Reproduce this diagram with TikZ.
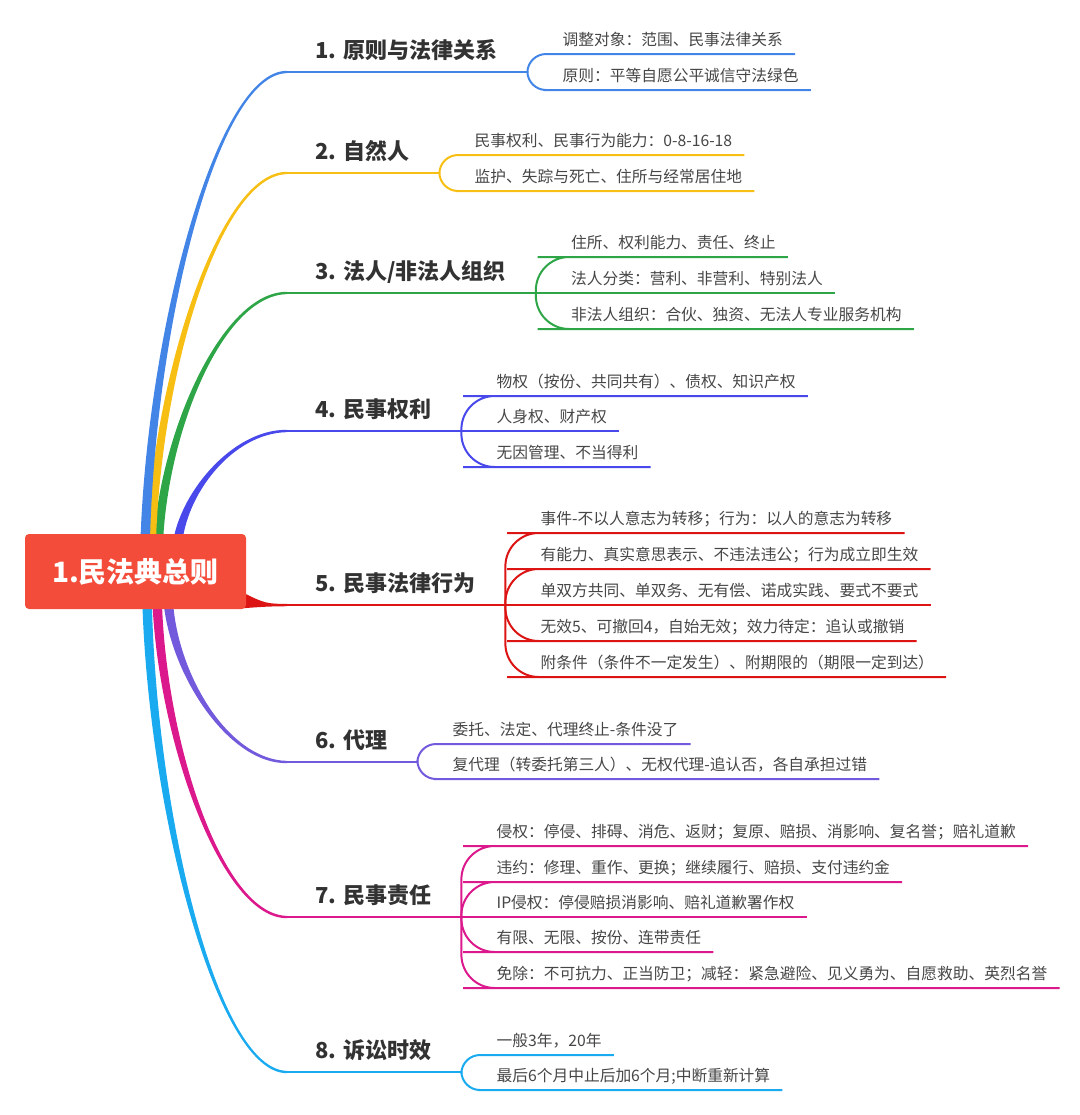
\documentclass[tikz,border=0pt]{standalone}
\usepackage{fontspec}
\setmainfont{Noto Sans CJK SC}
\usetikzlibrary{positioning,calc,backgrounds}
\definecolor{rootred}{RGB}{244,76,58}
\definecolor{labelgray}{RGB}{50,50,50}
\definecolor{leafgray}{RGB}{70,70,70}
\definecolor{c1}{RGB}{66,133,230}
\definecolor{c2}{RGB}{247,190,20}
\definecolor{c3}{RGB}{46,166,72}
\definecolor{c4}{RGB}{72,72,235}
\definecolor{c5}{RGB}{220,20,20}
\definecolor{c6}{RGB}{115,90,220}
\definecolor{c7}{RGB}{220,25,140}
\definecolor{c8}{RGB}{25,170,240}

% tapered limb from the root to the knee of a branch
\newcommand{\branchlimb}[3]{%
  \fill[#1] let \p1=(#2), \p2=(#3),
    \n1={\x1+0.035*(\x2-\x1)}, \n2={\y1+0.45*(\y2-\y1)},
    \n3={\x1+0.5*(\x2-\x1)}, \n4={0.85*sign(\y2-\y1)} in
    ({\x1-3.6pt},\y1) .. controls ({\n1-2.9pt},\n2) and (\n3,{\y2+1.9*(\n4)}) .. (\x2,{\y2+(\n4)})
    -- (\x2,{\y2-(\n4)}) .. controls (\n3,{\y2-1.9*(\n4)}) and ({\n1+2.9pt},\n2) .. ({\x1+3.6pt},\y1) -- cycle;}

\begin{document}
\begin{tikzpicture}[x=0.75pt,y=-0.75pt,
  rootbox/.style={fill=rootred,rounded corners=3pt,text=white,inner sep=0pt,font=\fontsize{21}{25}\selectfont\bfseries,minimum width=165.75pt,minimum height=56.25pt},
  lbl/.style={anchor=south west,inner sep=0pt,text depth=10pt,font=\fontsize{16.5}{20}\selectfont\bfseries,text=labelgray},
  leaf/.style={anchor=south west,inner sep=0pt,text depth=6pt,font=\fontsize{11.8}{14}\selectfont,text=leafgray},
  stem/.style={line width=1.8pt},
  twig/.style={line width=1.5pt,rounded corners=#1},
  twig/.default=25
]
\useasboundingbox (0,0) rectangle (1080,1115);

% CENTRE: root topic
\node[rootbox] (root) at (135.5,571.5) {1.民法典总则};

% BRANCH 1
\node[lbl] (b1) at (315,72) {1. 原则与法律关系};
\coordinate (k1) at ($(b1.south west)+(-28,0)$);
\coordinate (j1) at ($(b1.south east)+(30,0)$);
\node[leaf] (b1a) at ($(j1)+(35,-18)$) {调整对象：范围、民事法律关系};
\node[leaf] (b1b) at ($(j1)+(35,18)$) {原则：平等自愿公平诚信守法绿色};
\draw[c1,stem] (k1) -- (j1);
\draw[c1,twig=14] (j1) |- (b1a.south west) -- ($(b1a.south east)+(12,0)$);
\draw[c1,twig=14] (j1) |- (b1b.south west) -- ($(b1b.south east)+(12,0)$);

% BRANCH 2
\node[lbl] (b2) at (315,173) {2. 自然人};
\coordinate (k2) at ($(b2.south west)+(-28,0)$);
\coordinate (j2) at ($(b2.south east)+(30,0)$);
\node[leaf] (b2a) at ($(j2)+(35,-18)$) {民事权利、民事行为能力：0-8-16-18};
\node[leaf] (b2b) at ($(j2)+(35,18)$) {监护、失踪与死亡、住所与经常居住地};
\draw[c2,stem] (k2) -- (j2);
\draw[c2,twig=14] (j2) |- (b2a.south west) -- ($(b2a.south east)+(12,0)$);
\draw[c2,twig=14] (j2) |- (b2b.south west) -- ($(b2b.south east)+(12,0)$);

% BRANCH 3
\node[lbl] (b3) at (315,293) {3. 法人/非法人组织};
\coordinate (k3) at ($(b3.south west)+(-28,0)$);
\coordinate (j3) at ($(b3.south east)+(30,0)$);
\node[leaf] (b3a) at ($(j3)+(35,-36)$) {住所、权利能力、责任、终止};
\node[leaf] (b3b) at ($(j3)+(35,0)$) {法人分类：营利、非营利、特别法人};
\node[leaf] (b3c) at ($(j3)+(35,36)$) {非法人组织：合伙、独资、无法人专业服务机构};
\draw[c3,stem] (k3) -- (j3);
\draw[c3,twig] (j3) |- (b3a.south west) -- ($(b3a.south east)+(12,0)$);
\draw[c3,twig] (j3) -- (b3b.south west) -- ($(b3b.south east)+(12,0)$);
\draw[c3,twig] (j3) |- (b3c.south west) -- ($(b3c.south east)+(12,0)$);

% BRANCH 4
\node[lbl] (b4) at (315,431) {4. 民事权利};
\coordinate (k4) at ($(b4.south west)+(-28,0)$);
\coordinate (j4) at ($(b4.south east)+(30,0)$);
\node[leaf] (b4a) at ($(j4)+(35,-35)$) {物权（按份、共同共有）、债权、知识产权};
\node[leaf] (b4b) at ($(j4)+(35,0)$) {人身权、财产权};
\node[leaf] (b4c) at ($(j4)+(35,36)$) {无因管理、不当得利};
\draw[c4,stem] (k4) -- (j4);
\draw[c4,twig] (j4) |- (b4a.south west) -- ($(b4a.south east)+(12,0)$);
\draw[c4,twig] (j4) -- (b4b.south west) -- ($(b4b.south east)+(12,0)$);
\draw[c4,twig] (j4) |- (b4c.south west) -- ($(b4c.south east)+(12,0)$);

% BRANCH 5
\node[lbl] (b5) at (315,605) {5. 民事法律行为};
\coordinate (k5) at ($(b5.south west)+(-28,0)$);
\coordinate (j5) at ($(b5.south east)+(30,0)$);
\node[leaf] (b5a) at ($(j5)+(35,-72)$) {事件-不以人意志为转移；行为：以人的意志为转移};
\node[leaf] (b5b) at ($(j5)+(35,-36)$) {有能力、真实意思表示、不违法违公；行为成立即生效};
\node[leaf] (b5c) at ($(j5)+(35,0)$) {单双方共同、单双务、无有偿、诺成实践、要式不要式};
\node[leaf] (b5d) at ($(j5)+(35,36)$) {无效5、可撤回4，自始无效；效力待定：追认或撤销};
\node[leaf] (b5e) at ($(j5)+(35,72)$) {附条件（条件不一定发生）、附期限的（期限一定到达）};
\draw[c5,stem] (k5) -- (j5);
\draw[c5,twig] (j5) |- (b5a.south west) -- ($(b5a.south east)+(12,0)$);
\draw[c5,twig] (j5) |- (b5b.south west) -- ($(b5b.south east)+(12,0)$);
\draw[c5,twig] (j5) -- (b5c.south west) -- ($(b5c.south east)+(12,0)$);
\draw[c5,twig] (j5) |- (b5d.south west) -- ($(b5d.south east)+(12,0)$);
\draw[c5,twig] (j5) |- (b5e.south west) -- ($(b5e.south east)+(12,0)$);

% BRANCH 6
\node[lbl] (b6) at (315,762) {6. 代理};
\coordinate (k6) at ($(b6.south west)+(-28,0)$);
\coordinate (j6) at ($(b6.south east)+(30,0)$);
\node[leaf] (b6a) at ($(j6)+(35,-18)$) {委托、法定、代理终止-条件没了};
\node[leaf] (b6b) at ($(j6)+(35,17)$) {复代理（转委托第三人）、无权代理-追认否，各自承担过错};
\draw[c6,stem] (k6) -- (j6);
\draw[c6,twig=14] (j6) |- (b6a.south west) -- ($(b6a.south east)+(12,0)$);
\draw[c6,twig=14] (j6) |- (b6b.south west) -- ($(b6b.south east)+(12,0)$);

% BRANCH 7
\node[lbl] (b7) at (315,917) {7. 民事责任};
\coordinate (k7) at ($(b7.south west)+(-28,0)$);
\coordinate (j7) at ($(b7.south east)+(30,0)$);
\node[leaf] (b7a) at ($(j7)+(35,-71)$) {侵权：停侵、排碍、消危、返财；复原、赔损、消影响、复名誉；赔礼道歉};
\node[leaf] (b7b) at ($(j7)+(35,-35)$) {违约：修理、重作、更换；继续履行、赔损、支付违约金};
\node[leaf] (b7c) at ($(j7)+(35,0)$) {IP侵权：停侵赔损消影响、赔礼道歉署作权};
\node[leaf] (b7d) at ($(j7)+(35,35)$) {有限、无限、按份、连带责任};
\node[leaf] (b7e) at ($(j7)+(35,71)$) {免除：不可抗力、正当防卫；减轻：紧急避险、见义勇为、自愿救助、英烈名誉};
\draw[c7,stem] (k7) -- (j7);
\draw[c7,twig] (j7) |- (b7a.south west) -- ($(b7a.south east)+(12,0)$);
\draw[c7,twig] (j7) |- (b7b.south west) -- ($(b7b.south east)+(12,0)$);
\draw[c7,twig] (j7) -- (b7c.south west) -- ($(b7c.south east)+(12,0)$);
\draw[c7,twig] (j7) |- (b7d.south west) -- ($(b7d.south east)+(12,0)$);
\draw[c7,twig] (j7) |- (b7e.south west) -- ($(b7e.south east)+(12,0)$);

% BRANCH 8
\node[lbl] (b8) at (315,1072) {8. 诉讼时效};
\coordinate (k8) at ($(b8.south west)+(-28,0)$);
\coordinate (j8) at ($(b8.south east)+(30,0)$);
\node[leaf] (b8a) at ($(j8)+(35,-17)$) {一般3年，20年};
\node[leaf] (b8b) at ($(j8)+(35,18)$) {最后6个月中止后加6个月;中断重新计算};
\draw[c8,stem] (k8) -- (j8);
\draw[c8,twig=14] (j8) |- (b8a.south west) -- ($(b8a.south east)+(12,0)$);
\draw[c8,twig=14] (j8) |- (b8b.south west) -- ($(b8b.south east)+(12,0)$);

% LIMBS: root to each branch, behind the root box
\begin{scope}[on background layer]
\coordinate (s1) at (145,548);
\coordinate (s2) at (151,548);
\coordinate (s3) at (158,548);
\coordinate (s4) at (177,548);
\coordinate (s6) at (168,598);
\coordinate (s7) at (157,598);
\coordinate (s8) at (147,598);
\branchlimb{c8}{s8}{k8}
\branchlimb{c7}{s7}{k7}
\branchlimb{c6}{s6}{k6}
\branchlimb{c4}{s4}{k4}
\branchlimb{c3}{s3}{k3}
\branchlimb{c2}{s2}{k2}
\branchlimb{c1}{s1}{k1}
\fill[c5] ($(root.south east)+(-4,-17)$) .. controls ($(root.south east)+(18,-6)$) and ($(k5)+(-20,-1)$) .. ($(k5)+(0,-1.2)$)
  -- ($(k5)+(0,1.2)$) .. controls ($(k5)+(-20,1.5)$) .. ($(root.south east)+(-4,-1)$) -- cycle;
\end{scope}
\end{tikzpicture}
\end{document}
